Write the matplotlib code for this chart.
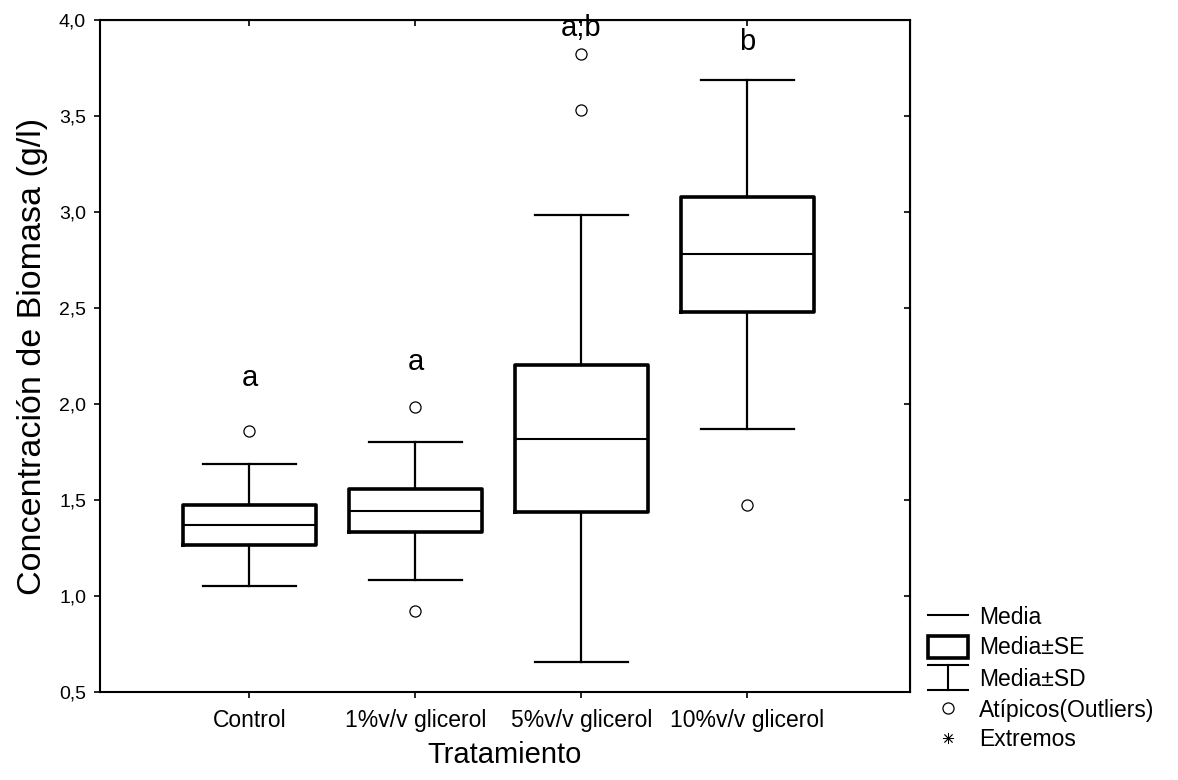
import matplotlib
matplotlib.use('Agg')
import matplotlib.pyplot as plt
from matplotlib.lines import Line2D
from matplotlib.patches import Rectangle

plt.rcParams['font.family'] = ['Liberation Sans', 'DejaVu Sans']

# Values (Media, Media+-SE, Media+-SD, outliers)
groups   = ['Control', '1%v/v glicerol', '5%v/v glicerol', '10%v/v glicerol']
means    = [1.37, 1.443, 1.818, 2.78]
se_low   = [1.266, 1.332, 1.439, 2.48]
se_high  = [1.474, 1.556, 2.202, 3.077]
sd_low   = [1.05, 1.085, 0.655, 1.869]
sd_high  = [1.69, 1.80, 2.986, 3.686]
outliers = [[1.86], [1.986, 0.923], [3.825, 3.532], [1.475]]
letters  = ['a', 'a', 'a;b', 'b']
letter_y = [2.135, 2.22, 3.96, 3.885]
yticks   = [0.5, 1.0, 1.5, 2.0, 2.5, 3.0, 3.5, 4.0]

fig = plt.figure(figsize=(11.78, 7.8), dpi=100)
ax = fig.add_axes([0.0849, 0.1128, 0.6876, 0.8616])

stats = []
for i in range(len(groups)):
  stats.append(dict(med=means[i], q1=se_low[i], q3=se_high[i],
                    whislo=sd_low[i], whishi=sd_high[i], fliers=outliers[i]))
pos = [1, 2, 3, 4]
ax.bxp(stats, positions=pos, widths=0.8, capwidths=0.56, showfliers=True,
       boxprops=dict(color='black', linewidth=2.6),
       medianprops=dict(color='black', linewidth=1.5),
       whiskerprops=dict(color='black', linewidth=1.6),
       capprops=dict(color='black', linewidth=1.6),
       flierprops=dict(marker='o', markersize=8, markerfacecolor='white',
                       markeredgecolor='black', markeredgewidth=0.9))

for i in range(len(groups)):
  ax.text(pos[i], letter_y[i], letters[i], ha='center', va='center', fontsize=21, clip_on=False)

ax.set_xlim(0.1, 4.98)
ax.set_ylim(0.5, 4.0)
ax.set_yticks(yticks)
ax.set_yticklabels([('%.1f' % v).replace('.', ',') for v in yticks], fontsize=14)
ax.set_xticks(pos)
ax.set_xticklabels(groups, fontsize=16.5)
ax.tick_params(axis='y', direction='out', length=4, width=1.2, pad=6)
ax.tick_params(axis='x', direction='out', length=4, width=1.2, pad=8)
for s in ax.spines.values():
  s.set_linewidth(1.5)

# inward ticks on right and top, as in the original
sec_y = ax.secondary_yaxis('right')
sec_y.set_yticks(yticks)
sec_y.tick_params(direction='in', length=4, width=1.2, labelright=False)
sec_x = ax.secondary_xaxis('top')
sec_x.set_xticks(pos)
sec_x.tick_params(direction='in', length=4, width=1.2, labeltop=False)

ax.set_ylabel('Concentración de Biomasa (g/l)', fontsize=24.5, labelpad=8)
ax.set_xlabel('Tratamiento', fontsize=21, labelpad=7)

# hand-drawn legend to the right of the plot (pixel-like coordinates)
lg = fig.add_axes([920 / 1178, 20 / 780, 258 / 1178, 160 / 780])
lg.set_xlim(920, 1178)
lg.set_ylim(760, 600)
lg.axis('off')
names  = ['Media', 'Media±SE', 'Media±SD', 'Atípicos(Outliers)', 'Extremos']
rows_y = [617, 648, 679, 710, 740]
lg.add_line(Line2D([928, 968], [615, 615], color='black', lw=1.5))
lg.add_patch(Rectangle((928, 636), 40, 22, fill=False, lw=2.6, ec='black'))
lg.add_line(Line2D([928, 968], [665, 665], color='black', lw=1.5))
lg.add_line(Line2D([928, 968], [690, 690], color='black', lw=1.5))
lg.add_line(Line2D([948, 948], [665, 690], color='black', lw=1.5))
lg.plot([948], [708], marker='o', markersize=8, mfc='white', mec='black', mew=0.9)
lg.plot([948], [738], marker=(8, 2, 0), markersize=8, color='black', mew=0.6)
for y, n in zip(rows_y, names):
  lg.text(979, y, n, va='center', ha='left', fontsize=16.5)

fig.savefig('out.png', dpi=100)
